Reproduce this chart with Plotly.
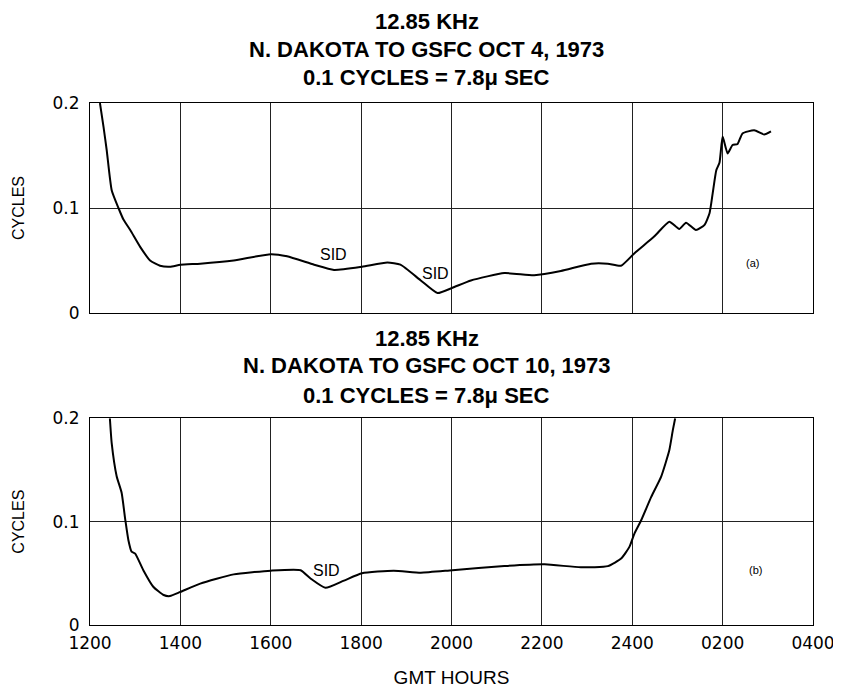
import plotly.graph_objects as go

# ---- data ----
hour_ticks = [12, 14, 16, 18, 20, 22, 24, 26, 28]
hour_labels = ["1200", "1400", "1600", "1800", "2000", "2200", "2400", "0200", "0400"]
cycle_ticks = [0, 0.1, 0.2]
cycle_labels = ["0", "0.1", "0.2"]

oct4_hours = [12.22, 12.30, 12.37, 12.48, 12.63, 12.74, 12.89, 13.11, 13.33, 13.55, 13.77, 14.0,
              14.44, 15.18, 16.0, 16.36, 16.96, 17.4, 18.02, 18.58, 18.87, 19.32, 19.69, 20.02,
              20.43, 21.17, 21.83, 22.42, 23.09, 23.46, 23.75, 24.05, 24.49, 24.82, 25.04, 25.19,
              25.41, 25.6, 25.71, 25.78, 25.86, 25.93, 26.0, 26.11, 26.22, 26.33, 26.44, 26.7,
              26.92, 27.07]
oct4_cycles = [0.200, 0.177, 0.155, 0.117, 0.100, 0.089, 0.079, 0.063, 0.050, 0.045, 0.044, 0.046,
               0.047, 0.050, 0.056, 0.054, 0.046, 0.041, 0.044, 0.048, 0.046, 0.031, 0.019, 0.024,
               0.031, 0.038, 0.036, 0.040, 0.047, 0.047, 0.045, 0.057, 0.073, 0.087, 0.080, 0.086,
               0.079, 0.084, 0.095, 0.114, 0.136, 0.143, 0.168, 0.152, 0.160, 0.161, 0.171, 0.174,
               0.170, 0.173]

oct10_hours = [12.44, 12.48, 12.59, 12.70, 12.78, 12.85, 12.92, 13.0, 13.18, 13.40, 13.63, 13.77,
               14.0, 14.44, 15.18, 16.0, 16.66, 16.88, 17.21, 17.62, 18.02, 18.72, 19.32, 20.02,
               21.17, 22.06, 22.86, 23.46, 23.76, 23.94, 24.05, 24.2, 24.42, 24.64, 24.82, 24.90,
               24.95]
oct10_cycles = [0.200, 0.176, 0.144, 0.128, 0.102, 0.082, 0.071, 0.069, 0.053, 0.037, 0.029, 0.028,
                0.032, 0.040, 0.049, 0.0526, 0.053, 0.045, 0.036, 0.043, 0.050, 0.0526, 0.0506, 0.053,
                0.057, 0.0587, 0.0558, 0.057, 0.0645, 0.0758, 0.0887, 0.1016, 0.124, 0.1436, 0.169,
                0.189, 0.200]

TITLE_FONT = "Liberation Sans"
TICK_FONT = "DejaVu Sans"

fig = go.Figure()
fig.add_trace(go.Scatter(x=oct4_hours, y=oct4_cycles, mode="lines", xaxis="x2", yaxis="y2",
                         line=dict(color="black", width=2, shape="spline", smoothing=0.5),
                         showlegend=False, hoverinfo="x+y"))
fig.add_trace(go.Scatter(x=oct10_hours, y=oct10_cycles, mode="lines", xaxis="x", yaxis="y",
                         line=dict(color="black", width=2, shape="spline", smoothing=0.5),
                         showlegend=False, hoverinfo="x+y"))

axis_common = dict(range=[12, 28], tickvals=hour_ticks, ticktext=hour_labels, automargin=False,
                   showgrid=True, gridcolor="#222", gridwidth=1, showline=True, linecolor="black",
                   linewidth=1, mirror=True, zeroline=False, ticks="outside", ticklen=3,
                   tickcolor="rgba(0,0,0,0)", tickfont=dict(family=TICK_FONT, size=17, color="black"))
yaxis_common = dict(range=[0, 0.2], tickvals=cycle_ticks, ticktext=cycle_labels, automargin=False,
                    showgrid=True, gridcolor="#222", gridwidth=1, showline=True, linecolor="black",
                    linewidth=1, mirror=True, zeroline=False, ticks="outside", ticklen=6,
                    tickcolor="rgba(0,0,0,0)", tickfont=dict(family=TICK_FONT, size=17, color="black"))

# page body has an 8px margin; sizes compensate so the plot sits where the reference has it
fig.update_layout(
    width=833, height=684,
    margin=dict(l=82, r=28, t=95, b=67, autoexpand=False),
    paper_bgcolor="white", plot_bgcolor="white",
    xaxis=dict(axis_common, anchor="y",
               title=dict(text="GMT HOURS", font=dict(family=TITLE_FONT, size=19, color="black"),
                          standoff=18)),
    yaxis=dict(yaxis_common, domain=[0, 0.396], anchor="x",
               title=dict(text="CYCLES", font=dict(family=TITLE_FONT, size=16, color="black"),
                          standoff=23)),
    xaxis2=dict(axis_common, anchor="y2", showticklabels=False),
    yaxis2=dict(yaxis_common, domain=[0.5977, 1], anchor="x2",
                title=dict(text="CYCLES", font=dict(family=TITLE_FONT, size=16, color="black"),
                           standoff=23)),
)

title_lines_a = ["12.85 KHz", "N. DAKOTA TO GSFC OCT 4, 1973", "0.1 CYCLES = 7.8μ SEC"]
title_lines_b = ["12.85 KHz", "N. DAKOTA TO GSFC OCT 10, 1973", "0.1 CYCLES = 7.8μ SEC"]
ya = [1.157, 1.1034, 1.0498]
yb = [0.5498, 0.4962, 0.4406]
for txt, yy in zip(title_lines_a, ya):
    fig.add_annotation(text=txt, xref="paper", yref="paper", x=0.466, y=yy, showarrow=False,
                       xanchor="center", yanchor="middle",
                       font=dict(family=TITLE_FONT, size=22, color="black", weight="bold"))
for txt, yy in zip(title_lines_b, yb):
    fig.add_annotation(text=txt, xref="paper", yref="paper", x=0.466, y=yy, showarrow=False,
                       xanchor="center", yanchor="middle",
                       font=dict(family=TITLE_FONT, size=22, color="black", weight="bold"))

# in-plot labels
fig.add_annotation(text="SID", x=17.38, y=0.056, xref="x2", yref="y2", showarrow=False,
                   font=dict(family=TITLE_FONT, size=16, color="black"))
fig.add_annotation(text="SID", x=19.65, y=0.038, xref="x2", yref="y2", showarrow=False,
                   font=dict(family=TITLE_FONT, size=16, color="black"))
fig.add_annotation(text="(a)", x=26.66, y=0.048, xref="x2", yref="y2", showarrow=False,
                   font=dict(family=TITLE_FONT, size=11, color="black"))
fig.add_annotation(text="SID", x=17.24, y=0.053, xref="x", yref="y", showarrow=False,
                   font=dict(family=TITLE_FONT, size=16, color="black"))
fig.add_annotation(text="(b)", x=26.72, y=0.053, xref="x", yref="y", showarrow=False,
                   font=dict(family=TITLE_FONT, size=11, color="black"))

fig.write_html("out.html")
